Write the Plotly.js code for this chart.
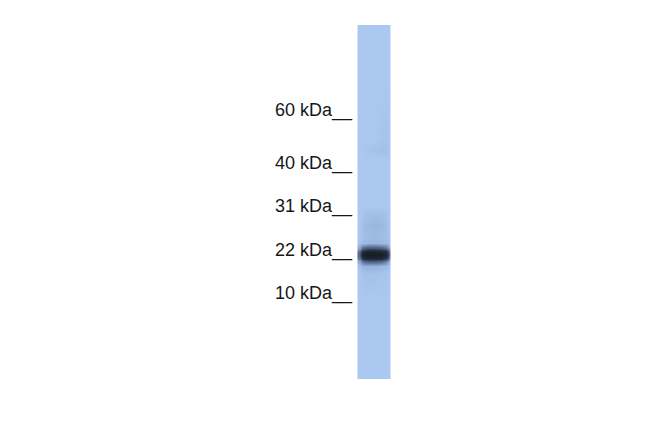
<!DOCTYPE html>
<html>
<head>
<meta charset="utf-8">
<script src="https://cdn.plot.ly/plotly-3.0.1.min.js"></script>
<style>
  html, body { margin: 0; padding: 0; background: #ffffff; }
  #blot { width: 650px; height: 433px; }
</style>
</head>
<body>
<div id="blot"></div>
<script>
// molecular weight marker ladder (kDa) and where each one ran on the membrane
var markerKDa = [60, 40, 31, 22, 10];
var markerPos = [111, 164, 207, 251, 294];

// lane scan: sample positions across and down the lane
var laneX = [359, 362, 367, 374, 381, 386, 389];
var laneY = [26, 28, 80, 140, 150, 160, 205, 215, 225, 235, 243, 248, 252, 255, 258, 261, 266, 274, 300, 376, 378];

var laneSignal = [
  [0, 0, 0, 0, 0, 0, 0],
  [0, 0, 0, 0, 0, 0, 0],
  [0, 0, 0, 0, 0, 0, 0],
  [0, 0, 0, 0, 0.02, 0.02, 0],
  [0, 0, 0.02, 0.03, 0.04, 0.03, 0],
  [0, 0, 0, 0, 0, 0, 0],
  [0, 0, 0, 0, 0, 0, 0],
  [0, 0.02, 0.04, 0.05, 0.04, 0.02, 0],
  [0, 0.04, 0.07, 0.08, 0.07, 0.04, 0.01],
  [0, 0.03, 0.05, 0.06, 0.05, 0.03, 0.01],
  [0.02, 0.05, 0.07, 0.08, 0.07, 0.05, 0.02],
  [0.15, 0.4, 0.5, 0.5, 0.45, 0.35, 0.12],
  [0.4, 0.85, 0.95, 0.95, 0.9, 0.8, 0.35],
  [0.45, 0.95, 1, 1, 0.98, 0.85, 0.4],
  [0.35, 0.8, 0.9, 0.9, 0.85, 0.7, 0.3],
  [0.15, 0.4, 0.5, 0.5, 0.45, 0.3, 0.1],
  [0.03, 0.08, 0.1, 0.1, 0.08, 0.05, 0.02],
  [0, 0.02, 0.03, 0.03, 0.02, 0.01, 0],
  [0, 0, 0, 0, 0, 0, 0],
  [0, 0, 0, 0, 0, 0, 0],
  [0, 0, 0, 0, 0, 0, 0]
];

var markerText = markerKDa.map(function (m) { return m + ' kDa__'; });

var lane = {
  type: 'heatmap',
  x: laneX,
  y: laneY,
  z: laneSignal,
  zmin: 0,
  zmax: 1,
  zsmooth: 'best',
  showscale: false,
  hoverinfo: 'skip',
  colorscale: [
    [0, 'rgb(170,200,240)'],
    [0.1, 'rgb(150,178,220)'],
    [0.35, 'rgb(98,118,155)'],
    [0.7, 'rgb(42,52,72)'],
    [1, 'rgb(24,28,38)']
  ]
};

var ladder = {
  type: 'scatter',
  mode: 'text',
  x: markerPos.map(function () { return 352; }),
  y: markerPos,
  text: markerText,
  textposition: 'middle left',
  textfont: { family: 'Liberation Sans, Arial, sans-serif', size: 18, color: '#161616' },
  hoverinfo: 'skip',
  showlegend: false
};

var layout = {
  width: 650,
  height: 433,
  margin: { l: 0, r: 0, t: 0, b: 0 },
  paper_bgcolor: '#ffffff',
  plot_bgcolor: '#ffffff',
  showlegend: false,
  xaxis: { range: [0, 650], visible: false, fixedrange: true },
  yaxis: { range: [433, 0], visible: false, fixedrange: true }
};

Plotly.newPlot('blot', [lane, ladder], layout, { staticPlot: true, displayModeBar: false });
</script>
</body>
</html>
